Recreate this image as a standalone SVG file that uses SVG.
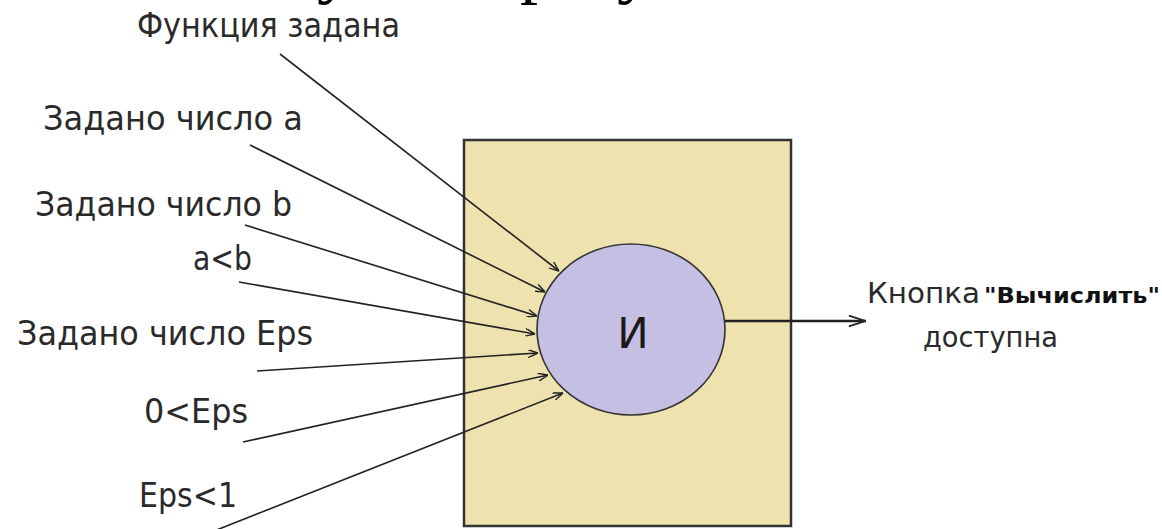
<svg xmlns="http://www.w3.org/2000/svg" width="1162" height="529" viewBox="0 0 1162 529">
  <style>
    .lbl { font-family: "DejaVu Sans", "Liberation Sans", sans-serif; font-size: 33px; fill: #2a2a2a; }
    .rlbl { font-family: "DejaVu Sans", "Liberation Sans", sans-serif; font-size: 29px; fill: #2a2a2a; }
    .bold { font-family: "DejaVu Sans", "Liberation Sans", sans-serif; font-size: 21px; font-weight: bold; fill: #111; }
    .frag { font-family: "Liberation Serif", "DejaVu Serif", serif; font-size: 72px; fill: #000; }
    .conn { stroke: #222; stroke-width: 1.6; fill: none; }
    .out { stroke: #222; stroke-width: 2.4; fill: none; }
  </style>
  <defs>
    <marker id="ah" viewBox="0 0 10 8" refX="10" refY="4" markerWidth="10" markerHeight="8" markerUnits="userSpaceOnUse" orient="auto">
      <path d="M0,0 L10,4 L0,8" fill="none" stroke="#222" stroke-width="1.4"/>
    </marker>
    <marker id="ahBig" viewBox="0 0 20 14" refX="20" refY="7" markerWidth="18" markerHeight="13" markerUnits="userSpaceOnUse" orient="auto">
      <path d="M1,1 L19,7 L1,13" fill="none" stroke="#222" stroke-width="2"/>
    </marker>
  </defs>
  <rect width="1162" height="529" fill="#ffffff"/>

  <!-- cut-off title fragments at top edge (as in the reference) -->
  <g id="title-fragment">
    <text class="frag" x="317" y="-10">у</text>
    <text class="frag" x="520" y="-10">р</text>
    <text class="frag" x="617" y="-10">у</text>
  </g>

  <g id="block">
    <rect x="464" y="140" width="327" height="386" fill="#EEE2AE" stroke="#333" stroke-width="2.5"/>
  </g>

  <g id="and-node">
    <ellipse cx="631" cy="329.5" rx="94" ry="85.5" fill="#C6BFE4" stroke="#333" stroke-width="1.6"/>
    <text x="633" y="348" text-anchor="middle" style="font-family: 'DejaVu Sans', sans-serif; font-size: 42px; fill: #1a1a1a;">И</text>
  </g>

  <g id="connectors">
    <path class="conn" d="M280,54 L559,271" marker-end="url(#ah)"/>
    <path class="conn" d="M250,145 L545,292" marker-end="url(#ah)"/>
    <path class="conn" d="M245,225 L537,316" marker-end="url(#ah)"/>
    <path class="conn" d="M239,282 L535,334" marker-end="url(#ah)"/>
    <path class="conn" d="M257,371 L538,353" marker-end="url(#ah)"/>
    <path class="conn" d="M243,442 L548,375" marker-end="url(#ah)"/>
    <path class="conn" d="M214,531 L563,393" marker-end="url(#ah)"/>
    <path class="out" d="M725,321 L866,321" marker-end="url(#ahBig)"/>
  </g>

  <g id="label-function">
    <text class="lbl" x="137" y="37" textLength="263" lengthAdjust="spacingAndGlyphs">Функция задана</text>
  </g>
  <g id="label-a">
    <text class="lbl" x="43" y="130" textLength="260" lengthAdjust="spacingAndGlyphs">Задано число  a</text>
  </g>
  <g id="label-b">
    <text class="lbl" x="35" y="216" textLength="257" lengthAdjust="spacingAndGlyphs">Задано число b</text>
  </g>
  <g id="label-a-lt-b">
    <text class="lbl" x="193" y="270" textLength="59" lengthAdjust="spacingAndGlyphs">a&lt;b</text>
  </g>
  <g id="label-eps">
    <text class="lbl" x="17" y="345" textLength="296" lengthAdjust="spacingAndGlyphs">Задано число Eps</text>
  </g>
  <g id="label-0-lt-eps">
    <text class="lbl" x="144" y="423" textLength="104" lengthAdjust="spacingAndGlyphs">0&lt;Eps</text>
  </g>
  <g id="label-eps-lt-1">
    <text class="lbl" x="139" y="507" textLength="98" lengthAdjust="spacingAndGlyphs">Eps&lt;1</text>
  </g>

  <g id="label-output">
    <text class="rlbl" x="867" y="303" textLength="113" lengthAdjust="spacingAndGlyphs">Кнопка</text>
    <text class="bold" x="984" y="303" textLength="176" lengthAdjust="spacingAndGlyphs">"Вычислить"</text>
    <text class="rlbl" x="923" y="347" textLength="135" lengthAdjust="spacingAndGlyphs">доступна</text>
  </g>
</svg>
